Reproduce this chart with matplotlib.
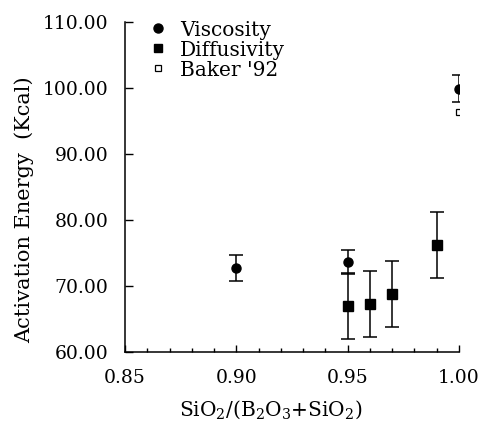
import numpy as np
import matplotlib.pyplot as plt
from matplotlib.ticker import MultipleLocator, FormatStrFormatter
from matplotlib.lines import Line2D

# viscosity data
visc_x = [0.90, 0.95, 1.00]
visc_y = [72.7, 73.6, 99.9]
visc_err = [2.0, 1.8, 2.0]

# diffusivity data
diff_x = [0.95, 0.96, 0.97, 0.99]
diff_y = [67.0, 67.3, 68.8, 76.2]
diff_err = [5.0, 5.0, 5.0, 5.0]

# Baker '92
baker_x = [1.00]
baker_y = [96.4]

plt.rcParams['font.family'] = ['DejaVu Serif']
plt.rcParams['mathtext.fontset'] = 'dejavuserif'

fig = plt.figure(figsize=(4.79, 4.23), dpi=100)
ax = fig.add_axes([0.261, 0.168, 0.697, 0.780])

ax.errorbar(visc_x, visc_y, yerr=visc_err, fmt='o', color='black', ms=6.5,
            capsize=5, elinewidth=1.1, capthick=1.1)
ax.errorbar(diff_x, diff_y, yerr=diff_err, fmt='s', color='black', ms=6.5,
            capsize=5, elinewidth=1.1, capthick=1.1)
ax.plot(baker_x, baker_y, 's', mfc='white', mec='black', ms=5, mew=0.9)

ax.set_xlim(0.85, 1.00)
ax.set_ylim(60, 110)
ax.xaxis.set_major_locator(MultipleLocator(0.05))
ax.xaxis.set_minor_locator(MultipleLocator(0.01))
ax.yaxis.set_major_locator(MultipleLocator(10))
ax.xaxis.set_major_formatter(FormatStrFormatter('%.2f'))
ax.yaxis.set_major_formatter(FormatStrFormatter('%.2f'))
ax.tick_params(axis='both', which='both', direction='in', labelsize=13.5, width=1)
ax.tick_params(axis='x', which='major', length=5, pad=12)
ax.tick_params(axis='x', which='minor', length=3)
ax.tick_params(axis='y', which='major', length=6, pad=12)
ax.spines['top'].set_visible(False)
ax.spines['right'].set_visible(False)
ax.spines['left'].set_linewidth(1.1)
ax.spines['bottom'].set_linewidth(1.1)

ax.set_ylabel('Activation Energy  (Kcal)', fontsize=15)
ax.set_xlabel(r'SiO$_2$/(B$_2$O$_3$+SiO$_2$)', fontsize=14.5)
ax.yaxis.set_label_coords(-0.272, 0.43)
ax.xaxis.set_label_coords(0.437, -0.14)

handles = [
    Line2D([], [], marker='o', ls='', color='black', ms=6.5),
    Line2D([], [], marker='s', ls='', color='black', ms=6),
    Line2D([], [], marker='s', ls='', mfc='white', mec='black', ms=5, mew=0.9),
]
ax.legend(handles, ['Viscosity', 'Diffusivity', "Baker '92"], loc='upper left',
          bbox_to_anchor=(0.045, 1.035), frameon=False, fontsize=14.5,
          handlelength=0.8, handletextpad=0.7, labelspacing=0.05, borderpad=0)

fig.savefig('out.png', dpi=100)
